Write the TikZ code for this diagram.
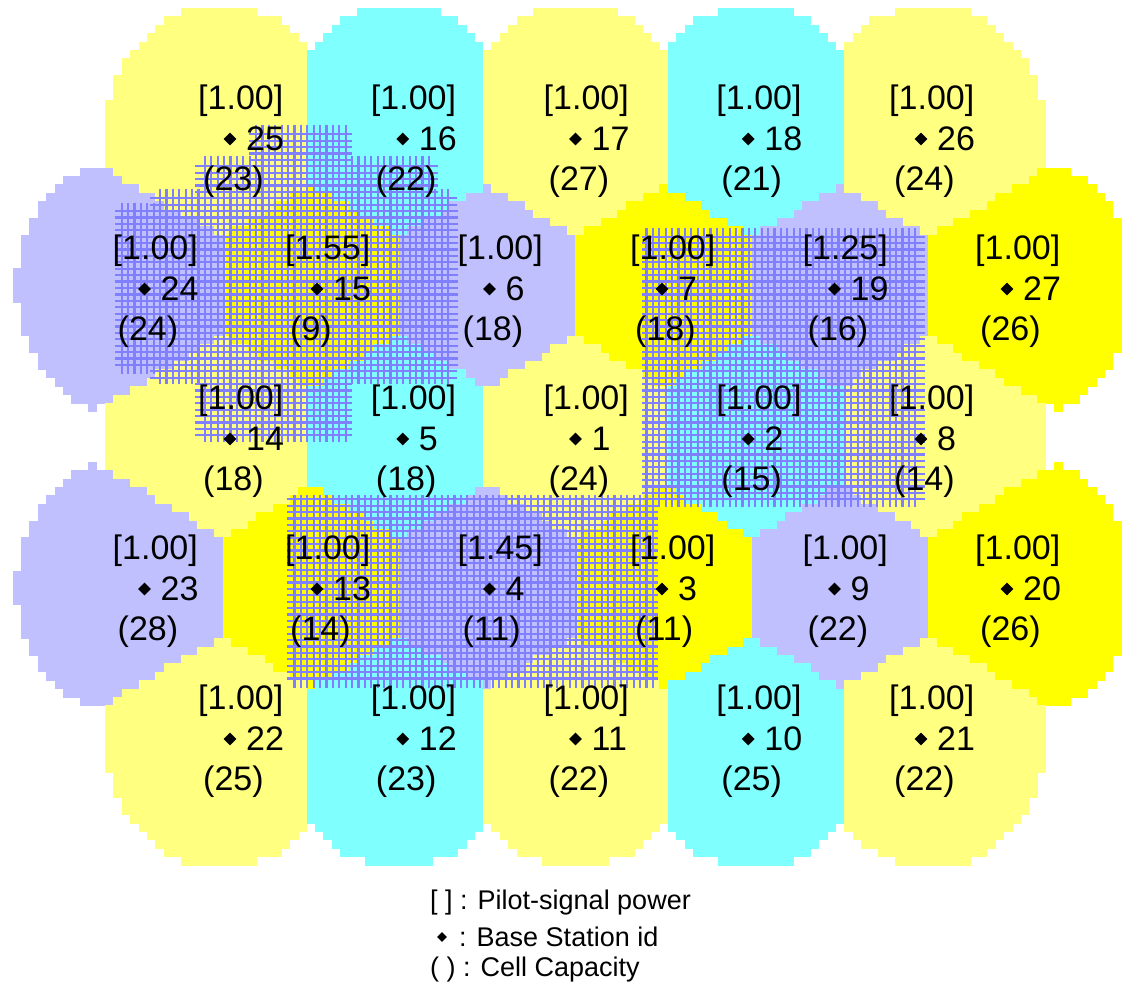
\documentclass[tikz,border=0pt]{standalone}
\usepackage{fontspec}
\setmainfont{Liberation Sans}
\usetikzlibrary{shapes.geometric}

\definecolor{cellpale}{HTML}{FFFF80}
\definecolor{cellaqua}{HTML}{80FFFF}
\definecolor{celllilac}{HTML}{C0C0FF}
\definecolor{cellgold}{HTML}{FFFF00}
\definecolor{hatchblue}{HTML}{8080FF}

% ---------------------------------------------------------------
% Coverage map on a coarse raster (8.4 units per raster step).
% Every raster square takes the colour of its nearest base station,
% if it lies inside that station's coverage ellipse; else it stays white.
% Positions are kept in tenths of a unit for integer arithmetic.
% ---------------------------------------------------------------
\newcount\cvi \newcount\cvj \newcount\cvx \newcount\cvy
\newcount\cvbest \newcount\cvdd \newcount\cvrun
\def\cvnone{none}
\def\cvstations{%
  \cvstn{2220}{1366}{cellpale}\cvstn{3988}{1366}{cellaqua}\cvstn{5755}{1366}{cellpale}%
  \cvstn{7523}{1366}{cellaqua}\cvstn{9290}{1366}{cellpale}%
  \cvstn{1336}{2867}{celllilac}\cvstn{3104}{2867}{cellgold}\cvstn{4871}{2867}{celllilac}%
  \cvstn{6639}{2867}{cellgold}\cvstn{8406}{2867}{celllilac}\cvstn{10174}{2867}{cellgold}%
  \cvstn{2220}{4367}{cellpale}\cvstn{3988}{4367}{cellaqua}\cvstn{5755}{4367}{cellpale}%
  \cvstn{7523}{4367}{cellaqua}\cvstn{9290}{4367}{cellpale}%
  \cvstn{1336}{5868}{celllilac}\cvstn{3104}{5868}{cellgold}\cvstn{4871}{5868}{celllilac}%
  \cvstn{6639}{5868}{cellgold}\cvstn{8406}{5868}{celllilac}\cvstn{10174}{5868}{cellgold}%
  \cvstn{2220}{7368}{cellpale}\cvstn{3988}{7368}{cellaqua}\cvstn{5755}{7368}{cellpale}%
  \cvstn{7523}{7368}{cellaqua}\cvstn{9290}{7368}{cellpale}}
\def\cvtry#1#2#3{%
  \cvdd=\numexpr(\cvx-#1)*(\cvx-#1)+(\cvy-#2)*(\cvy-#2)\relax
  \ifnum\cvdd<\cvbest\relax
    \cvbest=\cvdd\relax
    \def\cvbx{#1}\def\cvby{#2}\def\cvbc{#3}%
  \fi}
% nearest station, then the coverage test (radii 118 x 131)
\def\cvfind{%
  \cvbest=2147483647\relax
  \let\cvstn\cvtry
  \cvstations
  \ifnum\numexpr(\cvx-\cvbx)*(\cvx-\cvbx)/1392+(\cvy-\cvby)*(\cvy-\cvby)/1716\relax>1000\relax
    \let\cvbc\cvnone
  \fi}
\def\cvemit{%
  \ifx\cvcol\cvnone\else
    \fill[fill=\cvcol] ({\the\cvrun*8.4-4.2},{\the\cvj*8.4-0.3})
      rectangle ({\the\cvi*8.4-3.8},{\the\cvj*8.4+8.7});
  \fi}
\def\cvcolumns{%
  \ifnum\cvi<135\relax
    \cvx=\numexpr\cvi*84\relax
    \cvfind
    \ifx\cvbc\cvcol\else
      \cvemit
      \let\cvcol\cvbc
      \cvrun=\cvi\relax
    \fi
    \advance\cvi by 1\relax
    \expandafter\cvcolumns
  \fi}
\def\cvrows{%
  \ifnum\cvj<104\relax
    \cvi=0\relax
    \cvrun=0\relax
    \let\cvcol\cvnone
    \cvy=\numexpr\cvj*84+42\relax
    \cvcolumns
    \cvemit
    \advance\cvj by 1\relax
    \expandafter\cvrows
  \fi}

% hatch grid pitch and fringe
\newcommand\hpitch{6.4}
\newcommand\hfringe{4}
% one band of the cross-hatch grid: #1 x1, #2 y1, #3 x2, #4 y2
\newcommand\hatchband[4]{%
  \pgfmathtruncatemacro\hka{ceil(#1/\hpitch)}%
  \pgfmathtruncatemacro\hkb{floor(#3/\hpitch)}%
  \foreach \k in {\hka,...,\hkb}
    \draw[hatchline] ({\k*\hpitch},{#2-\hfringe}) -- ({\k*\hpitch},{#4+\hfringe});
  \pgfmathtruncatemacro\hja{ceil(#2/\hpitch)}%
  \pgfmathtruncatemacro\hjb{floor(#4/\hpitch)}%
  \foreach \j in {\hja,...,\hjb}
    \draw[hatchline] ({#1-\hfringe},{\j*\hpitch}) -- ({#3+\hfringe},{\j*\hpitch});
}

% station labels: #1 x, #2 y of the marker, #3 pilot power, #4 id, #5 capacity
\newcommand\station[5]{%
  \node[bs] (bs#4) at (#1,#2) {};
  \node[celltext] (id#4) at ({#1+16},#2) {#4};
  \node[celltext] (pw#4) at ({#1-32},{#2-38}) {[#3]};
  \node[celltext] (cap#4) at ({#1-27},{#2+43}) {(#5)};
}

\tikzset{
  bs/.style={diamond, fill=black, inner sep=0pt, minimum width=13pt, minimum height=13pt},
  celltext/.style={anchor=west, inner sep=0pt, text=black,
    font=\fontsize{34}{38}\selectfont},
  keytext/.style={anchor=west, inner sep=0pt, text=black,
    font=\fontsize{27}{32}\selectfont},
  hatchline/.style={draw=hatchblue, line width=2.2pt}
}

\begin{document}
\begin{tikzpicture}[x=1pt,y=-1pt]
\useasboundingbox (0,0) rectangle (1122,987);
\fill[white] (0,0) rectangle (1122,987);

% ---- coverage cells ----
\cvj=0\relax
\cvrows

% ---- cross-hatched areas ----
% around station 15
\hatchband{253}{129}{348}{160}
\hatchband{199}{160}{434}{193}
\hatchband{154}{193}{453}{207}
\hatchband{119}{207}{454}{370}
\hatchband{154}{370}{453}{380}
\hatchband{199}{380}{348}{438}
% around stations 7, 19, 2 and 8
\hatchband{646}{232}{921}{503}
% around stations 13, 4 and 3
\hatchband{291}{499}{654}{684}

% ---- station labels ----
\station{230}{139}{1.00}{25}{23}
\station{402.75}{139}{1.00}{16}{22}
\station{575.5}{139}{1.00}{17}{27}
\station{748.25}{139}{1.00}{18}{21}
\station{921}{139}{1.00}{26}{24}

\station{144.5}{289}{1.00}{24}{24}
\station{317}{289}{1.55}{15}{9}
\station{489.5}{289}{1.00}{6}{18}
\station{662}{289}{1.00}{7}{18}
\station{834.5}{289}{1.25}{19}{16}
\station{1007}{289}{1.00}{27}{26}

\station{230}{439}{1.00}{14}{18}
\station{402.75}{439}{1.00}{5}{18}
\station{575.5}{439}{1.00}{1}{24}
\station{748.25}{439}{1.00}{2}{15}
\station{921}{439}{1.00}{8}{14}

\station{144.5}{589}{1.00}{23}{28}
\station{317}{589}{1.00}{13}{14}
\station{489.5}{589}{1.45}{4}{11}
\station{662}{589}{1.00}{3}{11}
\station{834.5}{589}{1.00}{9}{22}
\station{1007}{589}{1.00}{20}{26}

\station{230}{739}{1.00}{22}{25}
\station{402.75}{739}{1.00}{12}{23}
\station{575.5}{739}{1.00}{11}{22}
\station{748.25}{739}{1.00}{10}{25}
\station{921}{739}{1.00}{21}{22}

% ---- key ----
\node[keytext] (keypw) at (430,903) {[ ] : Pilot-signal power};
\node[bs, minimum width=10pt, minimum height=10pt] (keybs) at (442,937) {};
\node[keytext] (keyid) at (459,937) {: Base Station id};
\node[keytext] (keycap) at (430,970) {( ) : Cell Capacity};
\end{tikzpicture}
\end{document}
